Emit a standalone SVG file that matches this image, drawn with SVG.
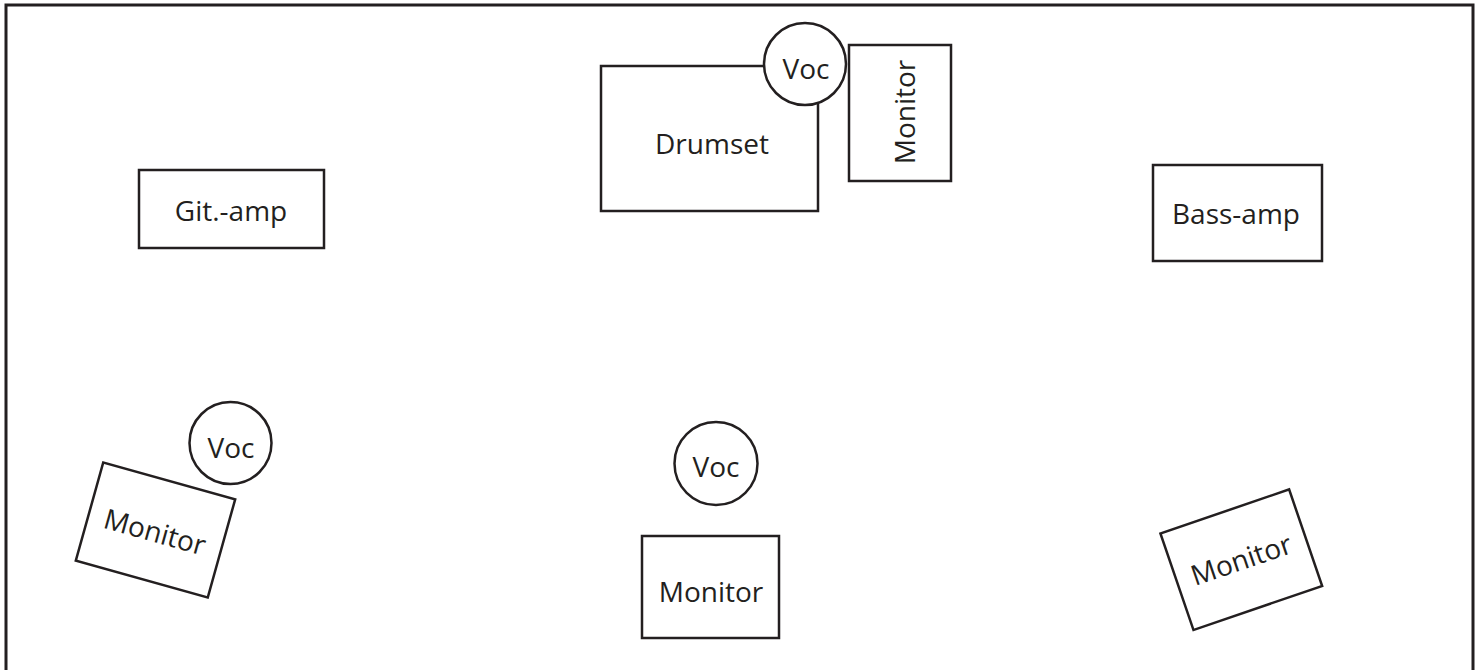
<svg xmlns="http://www.w3.org/2000/svg" width="1480" height="670" viewBox="0 0 1480 670">
<style>
.s{fill:#fff;stroke:#231f20;stroke-width:2.5}
.t{font-family:"Open Sans","Noto Sans",sans-serif;font-size:28px;fill:#231f20;text-anchor:middle}
</style>
<rect x="6" y="5" width="1467" height="700" fill="#fff" stroke="#231f20" stroke-width="3"/>
<g id="gitamp"><rect class="s" x="139" y="170" width="185" height="78"/><text class="t" x="231" y="221">Git.-amp</text></g>
<g id="drumset"><rect class="s" x="601" y="66" width="217" height="145"/><text class="t" x="712" y="154">Drumset</text></g>
<g id="voc-drum"><circle class="s" cx="805" cy="64" r="41"/><text class="t" x="806" y="79">Voc</text></g>
<g id="monitor-drum"><rect class="s" x="849" y="45" width="102" height="136"/><text class="t" transform="translate(915 112) rotate(-90)" x="0" y="0">Monitor</text></g>
<g id="bassamp"><rect class="s" x="1153" y="165" width="169" height="96"/><text class="t" x="1236" y="224">Bass-amp</text></g>
<g id="voc-left"><circle class="s" cx="230.5" cy="443" r="41"/><text class="t" x="231" y="458">Voc</text></g>
<g id="monitor-left" transform="translate(155.5 530) rotate(15.6)"><rect class="s" x="-68.5" y="-51" width="137" height="102"/><text class="t" x="0" y="12">Monitor</text></g>
<g id="voc-center"><circle class="s" cx="716" cy="463.5" r="41.5"/><text class="t" x="716" y="477">Voc</text></g>
<g id="monitor-center"><rect class="s" x="642" y="536" width="137" height="102"/><text class="t" x="711" y="602">Monitor</text></g>
<g id="monitor-right" transform="translate(1241.3 559.7) rotate(-18.9)"><rect class="s" x="-68" y="-51" width="136" height="102"/><text class="t" x="0" y="10">Monitor</text></g>
<g id="connectors"></g>
</svg>
